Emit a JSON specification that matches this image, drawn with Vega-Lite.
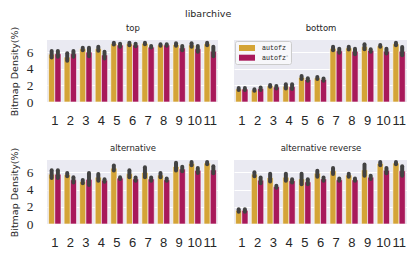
{
  "$schema": "https://vega.github.io/schema/vega-lite/v6.json",
  "padding": {"left": 9, "top": 8, "right": 9, "bottom": 5},
  "title": {"text": "libarchive", "fontSize": 9.5, "font": "DejaVu Sans", "fontWeight": "normal", "color": "#262626", "anchor": "middle", "offset": 5},
  "data": {"values": [
    {"panel":"top","level":1,"fuzzer":"autofz","mean":5.75,"lo":5.35,"hi":6.13},
    {"panel":"top","level":1,"fuzzer":"autofz⁻","mean":5.8,"lo":5.43,"hi":6.13},
    {"panel":"top","level":2,"fuzzer":"autofz","mean":5.4,"lo":4.95,"hi":5.85},
    {"panel":"top","level":2,"fuzzer":"autofz⁻","mean":5.8,"lo":5.43,"hi":6.13},
    {"panel":"top","level":3,"fuzzer":"autofz","mean":6.4,"lo":6.23,"hi":6.53},
    {"panel":"top","level":3,"fuzzer":"autofz⁻","mean":6.0,"lo":5.51,"hi":6.53},
    {"panel":"top","level":4,"fuzzer":"autofz","mean":6.4,"lo":6.15,"hi":6.65},
    {"panel":"top","level":4,"fuzzer":"autofz⁻","mean":5.65,"lo":5.23,"hi":6.05},
    {"panel":"top","level":5,"fuzzer":"autofz","mean":7.0,"lo":6.91,"hi":7.13},
    {"panel":"top","level":5,"fuzzer":"autofz⁻","mean":6.85,"lo":6.63,"hi":7.01},
    {"panel":"top","level":6,"fuzzer":"autofz","mean":7.0,"lo":6.83,"hi":7.13},
    {"panel":"top","level":6,"fuzzer":"autofz⁻","mean":6.85,"lo":6.71,"hi":7.01},
    {"panel":"top","level":7,"fuzzer":"autofz","mean":7.05,"lo":6.95,"hi":7.13},
    {"panel":"top","level":7,"fuzzer":"autofz⁻","mean":6.6,"lo":6.55,"hi":6.73},
    {"panel":"top","level":8,"fuzzer":"autofz","mean":6.85,"lo":6.75,"hi":6.93},
    {"panel":"top","level":8,"fuzzer":"autofz⁻","mean":6.85,"lo":6.75,"hi":6.93},
    {"panel":"top","level":9,"fuzzer":"autofz","mean":6.9,"lo":6.75,"hi":7.05},
    {"panel":"top","level":9,"fuzzer":"autofz⁻","mean":6.5,"lo":6.23,"hi":6.73},
    {"panel":"top","level":10,"fuzzer":"autofz","mean":6.85,"lo":6.63,"hi":7.05},
    {"panel":"top","level":10,"fuzzer":"autofz⁻","mean":6.4,"lo":6.03,"hi":6.73},
    {"panel":"top","level":11,"fuzzer":"autofz","mean":7.0,"lo":6.83,"hi":7.13},
    {"panel":"top","level":11,"fuzzer":"autofz⁻","mean":6.1,"lo":5.51,"hi":6.65},

    {"panel":"bottom","level":1,"fuzzer":"autofz","mean":1.56,"lo":1.43,"hi":1.69},
    {"panel":"bottom","level":1,"fuzzer":"autofz⁻","mean":1.56,"lo":1.43,"hi":1.69},
    {"panel":"bottom","level":2,"fuzzer":"autofz","mean":1.44,"lo":1.35,"hi":1.53},
    {"panel":"bottom","level":2,"fuzzer":"autofz⁻","mean":1.6,"lo":1.43,"hi":1.73},
    {"panel":"bottom","level":3,"fuzzer":"autofz","mean":1.95,"lo":1.83,"hi":2.05},
    {"panel":"bottom","level":3,"fuzzer":"autofz⁻","mean":1.8,"lo":1.63,"hi":1.93},
    {"panel":"bottom","level":4,"fuzzer":"autofz","mean":1.9,"lo":1.63,"hi":2.13},
    {"panel":"bottom","level":4,"fuzzer":"autofz⁻","mean":1.85,"lo":1.55,"hi":2.13},
    {"panel":"bottom","level":5,"fuzzer":"autofz","mean":2.95,"lo":2.75,"hi":3.13},
    {"panel":"bottom","level":5,"fuzzer":"autofz⁻","mean":2.7,"lo":2.55,"hi":2.85},
    {"panel":"bottom","level":6,"fuzzer":"autofz","mean":2.9,"lo":2.75,"hi":3.01},
    {"panel":"bottom","level":6,"fuzzer":"autofz⁻","mean":2.7,"lo":2.55,"hi":2.81},
    {"panel":"bottom","level":7,"fuzzer":"autofz","mean":6.45,"lo":6.23,"hi":6.65},
    {"panel":"bottom","level":7,"fuzzer":"autofz⁻","mean":6.15,"lo":5.91,"hi":6.41},
    {"panel":"bottom","level":8,"fuzzer":"autofz","mean":6.5,"lo":6.31,"hi":6.65},
    {"panel":"bottom","level":8,"fuzzer":"autofz⁻","mean":6.1,"lo":5.75,"hi":6.41},
    {"panel":"bottom","level":9,"fuzzer":"autofz","mean":6.65,"lo":6.35,"hi":6.93},
    {"panel":"bottom","level":9,"fuzzer":"autofz⁻","mean":6.2,"lo":6.03,"hi":6.33},
    {"panel":"bottom","level":10,"fuzzer":"autofz","mean":6.75,"lo":6.63,"hi":6.85},
    {"panel":"bottom","level":10,"fuzzer":"autofz⁻","mean":6.1,"lo":5.83,"hi":6.41},
    {"panel":"bottom","level":11,"fuzzer":"autofz","mean":7.0,"lo":6.83,"hi":7.13},
    {"panel":"bottom","level":11,"fuzzer":"autofz⁻","mean":6.1,"lo":5.63,"hi":6.61},

    {"panel":"alternative","level":1,"fuzzer":"autofz","mean":5.8,"lo":5.35,"hi":6.25},
    {"panel":"alternative","level":1,"fuzzer":"autofz⁻","mean":5.8,"lo":5.35,"hi":6.25},
    {"panel":"alternative","level":2,"fuzzer":"autofz","mean":5.75,"lo":5.55,"hi":5.93},
    {"panel":"alternative","level":2,"fuzzer":"autofz⁻","mean":5.15,"lo":4.83,"hi":5.45},
    {"panel":"alternative","level":3,"fuzzer":"autofz","mean":4.95,"lo":4.75,"hi":5.13},
    {"panel":"alternative","level":3,"fuzzer":"autofz⁻","mean":5.2,"lo":4.55,"hi":5.93},
    {"panel":"alternative","level":4,"fuzzer":"autofz","mean":5.45,"lo":5.03,"hi":5.81},
    {"panel":"alternative","level":4,"fuzzer":"autofz⁻","mean":5.1,"lo":4.91,"hi":5.21},
    {"panel":"alternative","level":5,"fuzzer":"autofz","mean":6.5,"lo":6.23,"hi":6.81},
    {"panel":"alternative","level":5,"fuzzer":"autofz⁻","mean":5.35,"lo":5.23,"hi":5.45},
    {"panel":"alternative","level":6,"fuzzer":"autofz","mean":5.85,"lo":5.43,"hi":6.25},
    {"panel":"alternative","level":6,"fuzzer":"autofz⁻","mean":5.25,"lo":5.03,"hi":5.41},
    {"panel":"alternative","level":7,"fuzzer":"autofz","mean":6.0,"lo":5.43,"hi":6.61},
    {"panel":"alternative","level":7,"fuzzer":"autofz⁻","mean":5.25,"lo":5.03,"hi":5.41},
    {"panel":"alternative","level":8,"fuzzer":"autofz","mean":5.7,"lo":5.43,"hi":5.93},
    {"panel":"alternative","level":8,"fuzzer":"autofz⁻","mean":5.15,"lo":5.03,"hi":5.29},
    {"panel":"alternative","level":9,"fuzzer":"autofz","mean":6.7,"lo":6.23,"hi":7.13},
    {"panel":"alternative","level":9,"fuzzer":"autofz⁻","mean":6.4,"lo":6.15,"hi":6.65},
    {"panel":"alternative","level":10,"fuzzer":"autofz","mean":7.05,"lo":6.83,"hi":7.21},
    {"panel":"alternative","level":10,"fuzzer":"autofz⁻","mean":6.25,"lo":5.95,"hi":6.53},
    {"panel":"alternative","level":11,"fuzzer":"autofz","mean":7.1,"lo":6.95,"hi":7.21},
    {"panel":"alternative","level":11,"fuzzer":"autofz⁻","mean":6.3,"lo":5.91,"hi":6.73},

    {"panel":"alternative reverse","level":1,"fuzzer":"autofz","mean":1.6,"lo":1.43,"hi":1.73},
    {"panel":"alternative reverse","level":1,"fuzzer":"autofz⁻","mean":1.6,"lo":1.43,"hi":1.73},
    {"panel":"alternative reverse","level":2,"fuzzer":"autofz","mean":5.8,"lo":5.55,"hi":6.01},
    {"panel":"alternative reverse","level":2,"fuzzer":"autofz⁻","mean":5.1,"lo":4.75,"hi":5.41},
    {"panel":"alternative reverse","level":3,"fuzzer":"autofz","mean":5.4,"lo":4.95,"hi":5.85},
    {"panel":"alternative reverse","level":3,"fuzzer":"autofz⁻","mean":4.35,"lo":4.23,"hi":4.45},
    {"panel":"alternative reverse","level":4,"fuzzer":"autofz","mean":5.45,"lo":5.03,"hi":5.85},
    {"panel":"alternative reverse","level":4,"fuzzer":"autofz⁻","mean":5.05,"lo":4.83,"hi":5.21},
    {"panel":"alternative reverse","level":5,"fuzzer":"autofz","mean":5.25,"lo":4.63,"hi":5.85},
    {"panel":"alternative reverse","level":5,"fuzzer":"autofz⁻","mean":4.9,"lo":4.63,"hi":5.21},
    {"panel":"alternative reverse","level":6,"fuzzer":"autofz","mean":5.9,"lo":5.51,"hi":6.21},
    {"panel":"alternative reverse","level":6,"fuzzer":"autofz⁻","mean":5.25,"lo":5.03,"hi":5.41},
    {"panel":"alternative reverse","level":7,"fuzzer":"autofz","mean":6.2,"lo":5.83,"hi":6.53},
    {"panel":"alternative reverse","level":7,"fuzzer":"autofz⁻","mean":5.15,"lo":5.03,"hi":5.29},
    {"panel":"alternative reverse","level":8,"fuzzer":"autofz","mean":5.7,"lo":5.51,"hi":5.85},
    {"panel":"alternative reverse","level":8,"fuzzer":"autofz⁻","mean":5.15,"lo":5.03,"hi":5.29},
    {"panel":"alternative reverse","level":9,"fuzzer":"autofz","mean":6.3,"lo":5.63,"hi":6.93},
    {"panel":"alternative reverse","level":9,"fuzzer":"autofz⁻","mean":5.45,"lo":5.23,"hi":5.61},
    {"panel":"alternative reverse","level":10,"fuzzer":"autofz","mean":7.05,"lo":6.83,"hi":7.21},
    {"panel":"alternative reverse","level":10,"fuzzer":"autofz⁻","mean":6.25,"lo":5.91,"hi":6.53},
    {"panel":"alternative reverse","level":11,"fuzzer":"autofz","mean":7.1,"lo":6.95,"hi":7.21},
    {"panel":"alternative reverse","level":11,"fuzzer":"autofz⁻","mean":6.2,"lo":5.63,"hi":6.73}
  ]},
  "concat": [
    {
      "width": 171, "height": 62,
      "transform": [{"filter": "datum.panel === 'top'"}],
      "layer": [
        {"mark": {"type": "bar", "stroke": "white", "strokeWidth": 0.6},
         "encoding": {
           "x": {"field": "level", "type": "ordinal", "scale": {"paddingInner": 0.2, "paddingOuter": 0.1}, "axis": {"title": null, "labelAngle": 0}},
           "xOffset": {"field": "fuzzer", "type": "nominal", "sort": ["autofz", "autofz⁻"]},
           "y": {"field": "mean", "type": "quantitative", "scale": {"domain": [0, 7.45], "nice": false}, "axis": {"title": "Bitmap Density(%)", "values": [0, 2, 4, 6], "tickCount": 4, "labelOverlap": false, "labelFlush": false, "labelFont": "Liberation Serif", "labelFontSize": 13.4}},
           "color": {"field": "fuzzer", "type": "nominal", "scale": {"domain": ["autofz", "autofz⁻"], "range": ["#D4A437", "#A8195A"]}, "legend": null}
         }},
        {"mark": {"type": "rule", "color": "#424242", "strokeWidth": 4, "strokeCap": "round"},
         "encoding": {
           "x": {"field": "level", "type": "ordinal", "axis": {"orient": "top", "title": "top", "labels": false, "grid": false}},
           "xOffset": {"field": "fuzzer", "type": "nominal", "sort": ["autofz", "autofz⁻"]},
           "y": {"field": "lo", "type": "quantitative", "axis": {"title": "Bitmap Density(%)", "values": [0, 2, 4, 6], "tickCount": 4, "labelOverlap": false, "labelFlush": false, "labelFont": "Liberation Serif", "labelFontSize": 13.4}},
           "y2": {"field": "hi"}
         }}
      ],
      "resolve": {"axis": {"x": "independent"}}
    },
    {
      "width": 173, "height": 62,
      "transform": [{"filter": "datum.panel === 'bottom'"}],
      "layer": [
        {"mark": {"type": "bar", "stroke": "white", "strokeWidth": 0.6},
         "encoding": {
           "x": {"field": "level", "type": "ordinal", "scale": {"paddingInner": 0.2, "paddingOuter": 0.1}, "axis": {"title": null, "labelAngle": 0}},
           "xOffset": {"field": "fuzzer", "type": "nominal", "sort": ["autofz", "autofz⁻"]},
           "y": {"field": "mean", "type": "quantitative", "scale": {"domain": [0, 7.45], "nice": false}, "axis": {"title": null, "labels": false, "values": [0, 2, 4, 6], "tickCount": 4}},
           "color": {"field": "fuzzer", "type": "nominal", "scale": {"domain": ["autofz", "autofz⁻"], "range": ["#D4A437", "#A8195A"]},
             "legend": {"orient": "top-left", "title": null, "offset": 1, "padding": 2, "fillColor": "#F7F7FA", "strokeColor": "#CCCCCC", "cornerRadius": 2,
               "labelFont": "Liberation Mono", "labelFontSize": 6.7, "labelColor": "#262626", "labelOffset": 15,
               "symbolType": "M-0.6,-0.6H2.6V0.6H-0.6Z", "symbolSize": 100, "symbolStrokeWidth": 0, "rowPadding": 0.7,
               "encode": {"symbols": {"update": {"fill": {"signal": "datum.value === 'autofz' ? '#EEA81D' : '#C0015A'"}}}}}}
         }},
        {"mark": {"type": "rule", "color": "#424242", "strokeWidth": 4, "strokeCap": "round"},
         "encoding": {
           "x": {"field": "level", "type": "ordinal", "axis": {"orient": "top", "title": "bottom", "labels": false, "grid": false}},
           "xOffset": {"field": "fuzzer", "type": "nominal", "sort": ["autofz", "autofz⁻"]},
           "y": {"field": "lo", "type": "quantitative", "axis": {"title": null, "labels": false, "values": [0, 2, 4, 6], "tickCount": 4}},
           "y2": {"field": "hi"}
         }}
      ],
      "resolve": {"axis": {"x": "independent"}}
    },
    {
      "width": 171, "height": 64,
      "transform": [{"filter": "datum.panel === 'alternative'"}],
      "layer": [
        {"mark": {"type": "bar", "stroke": "white", "strokeWidth": 0.6},
         "encoding": {
           "x": {"field": "level", "type": "ordinal", "scale": {"paddingInner": 0.2, "paddingOuter": 0.1}, "axis": {"title": null, "labelAngle": 0}},
           "xOffset": {"field": "fuzzer", "type": "nominal", "sort": ["autofz", "autofz⁻"]},
           "y": {"field": "mean", "type": "quantitative", "scale": {"domain": [0, 7.45], "nice": false}, "axis": {"title": "Bitmap Density(%)", "values": [0, 2, 4, 6], "tickCount": 4, "labelOverlap": false, "labelFlush": false, "labelFont": "Liberation Serif", "labelFontSize": 13.4}},
           "color": {"field": "fuzzer", "type": "nominal", "scale": {"domain": ["autofz", "autofz⁻"], "range": ["#D4A437", "#A8195A"]}, "legend": null}
         }},
        {"mark": {"type": "rule", "color": "#424242", "strokeWidth": 4, "strokeCap": "round"},
         "encoding": {
           "x": {"field": "level", "type": "ordinal", "axis": {"orient": "top", "title": "alternative", "labels": false, "grid": false}},
           "xOffset": {"field": "fuzzer", "type": "nominal", "sort": ["autofz", "autofz⁻"]},
           "y": {"field": "lo", "type": "quantitative", "axis": {"title": "Bitmap Density(%)", "values": [0, 2, 4, 6], "tickCount": 4, "labelOverlap": false, "labelFlush": false, "labelFont": "Liberation Serif", "labelFontSize": 13.4}},
           "y2": {"field": "hi"}
         }}
      ],
      "resolve": {"axis": {"x": "independent"}}
    },
    {
      "width": 173, "height": 64,
      "transform": [{"filter": "datum.panel === 'alternative reverse'"}],
      "layer": [
        {"mark": {"type": "bar", "stroke": "white", "strokeWidth": 0.6},
         "encoding": {
           "x": {"field": "level", "type": "ordinal", "scale": {"paddingInner": 0.2, "paddingOuter": 0.1}, "axis": {"title": null, "labelAngle": 0}},
           "xOffset": {"field": "fuzzer", "type": "nominal", "sort": ["autofz", "autofz⁻"]},
           "y": {"field": "mean", "type": "quantitative", "scale": {"domain": [0, 7.45], "nice": false}, "axis": {"title": null, "labels": false, "values": [0, 2, 4, 6], "tickCount": 4}},
           "color": {"field": "fuzzer", "type": "nominal", "scale": {"domain": ["autofz", "autofz⁻"], "range": ["#D4A437", "#A8195A"]}, "legend": null}
         }},
        {"mark": {"type": "rule", "color": "#424242", "strokeWidth": 4, "strokeCap": "round"},
         "encoding": {
           "x": {"field": "level", "type": "ordinal", "axis": {"orient": "top", "title": "alternative reverse", "labels": false, "grid": false}},
           "xOffset": {"field": "fuzzer", "type": "nominal", "sort": ["autofz", "autofz⁻"]},
           "y": {"field": "lo", "type": "quantitative", "axis": {"title": null, "labels": false, "values": [0, 2, 4, 6], "tickCount": 4}},
           "y2": {"field": "hi"}
         }}
      ],
      "resolve": {"axis": {"x": "independent"}}
    }
  ],
  "columns": 2,
  "spacing": {"row": 58, "column": 16},
  "bounds": "flush",
  "resolve": {"scale": {"color": "independent"}, "legend": {"color": "independent"}},
  "config": {
    "font": "DejaVu Sans",
    "view": {"fill": "#EAEAF2", "stroke": null},
    "axis": {"domain": false, "ticks": false, "gridColor": "#FFFFFF", "gridWidth": 1, "gridOpacity": 1, "labelOverlap": false,
      "labelFont": "Liberation Serif", "labelFontSize": 13.4, "labelColor": "#262626", "labelPadding": 12,
      "titleFont": "DejaVu Sans", "titleFontWeight": "normal", "titleFontSize": 9.5, "titleColor": "#262626", "titlePadding": 7},
    "axisY": {"labelPadding": 14},
    "axisX": {"grid": false, "labelFont": "Liberation Sans", "labelFontSize": 13},
    "axisTop": {"titleFontSize": 8.5, "titlePadding": 8},
    "title": {"fontSize": 8.5, "fontWeight": "normal", "color": "#262626", "font": "DejaVu Sans", "offset": 6}
  }
}
